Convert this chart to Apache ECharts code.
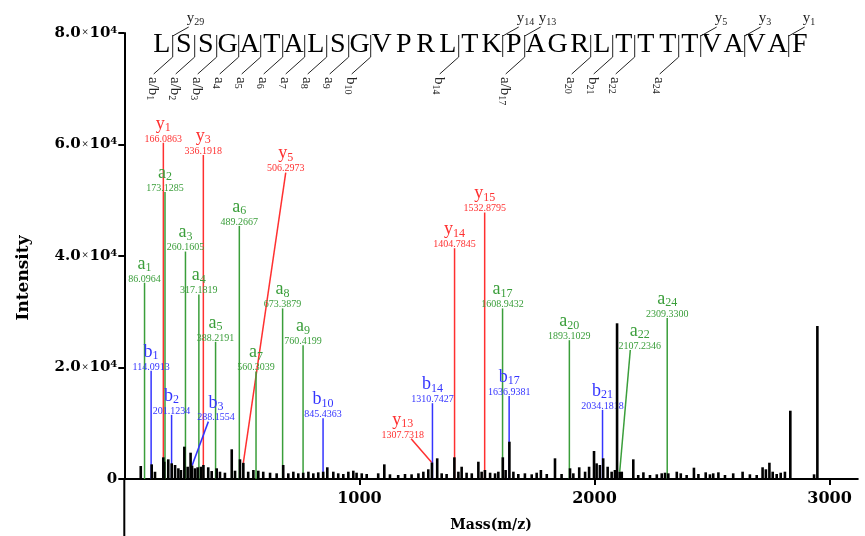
<!DOCTYPE html>
<html><head><meta charset="utf-8">
<script src="https://cdn.jsdelivr.net/npm/echarts@6/dist/echarts.min.js"></script>
<style>html,body{margin:0;padding:0;background:#fff}#c{width:865px;height:536px}</style>
</head><body><div id="c"></div>
<script>
// ---------------- data ----------------
const peptide = 'LSSGATALSGVPRLTKPAGRLTTTTVAVAF';
const nTermSites  = [1, 2, 3, 4, 5, 6, 7, 8, 9, 10, 14, 17, 20, 21, 22, 24];
const nTermTypes  = ['a/b','a/b','a/b','a','a','a','a','a','a','b','b','a/b','a','b','a','a'];
const cTermSites  = [1, 16, 17, 25, 27, 29];
const cTermNums   = [29, 14, 13, 5, 3, 1];

const yIonNums = ['1','3','5','13','14','15'];
const yIonMz = [166.0863, 336.1918, 506.2973, 1307.7318, 1404.7845, 1532.8795];
const yIonIntensity = [60300, 58100, 2900, 2950, 41400, 47800];

const aIonNums = ['1','2','3','4','5','6','7','8','9','17','20','22','24'];
const aIonMz = [86.0964, 173.1285, 260.1605, 317.1819, 388.2191, 489.2667, 560.3039, 673.3879, 760.4199, 1608.9432, 1893.1029, 2107.2346, 2309.3300];
const aIonIntensity = [35200, 51500, 40800, 33100, 24600, 45400, 19300, 30600, 24000, 30600, 24900, 1300, 28900];

const bIonNums = ['1','2','3','10','14','17','21'];
const bIonMz = [114.0913, 201.1234, 288.1554, 845.4363, 1310.7427, 1636.9381, 2034.1818];
const bIonIntensity = [19400, 11500, 2400, 10900, 13600, 14900, 12400];

const spectrumMz = [70,116.5,130.6,166,170,187,201.6,216,230,241,255.4,269.5,282,288.2,300.7,312,326,336.5,357,371.7,393,407,428,457,471,492,506.3,527,549,570,591,620,648,676,697.6,719,740,761,783,804,825,846,863.5,889,910,931.5,953,974,988,1010,1031,1080,1106,1130,1165,1194,1222,1251,1272,1293,1308.5,1331,1350,1371,1404,1421,1435,1456,1478,1506,1520,1534,1556,1577,1591,1610,1622,1638,1655,1676,1704,1733,1754,1772,1797,1832,1860,1896,1910,1935,1960,1977,1998,2009,2023,2037,2056,2073,2087,2096,2107.2,2116,2165,2186,2208,2236,2265,2286,2300,2314,2350,2367,2392,2423,2442,2473,2491,2505,2527,2555,2590,2630,2661,2690,2715,2729,2744,2758,2775,2792,2810,2833,2934,2948];
const spectrumIntensity = [2330,2630,1300,3890,3100,3530,2810,2510,1920,1610,5800,2200,4720,2400,1920,2100,2200,2510,2100,1430,1920,1310,1130,5330,1490,3530,2900,1310,1610,1490,1310,1130,1020,2510,1020,1310,1020,1130,1310,1020,1200,1310,2100,1310,1020,900,1310,1490,1130,1020,900,1020,2630,840,720,900,840,1020,1310,1740,2950,3710,1020,900,3890,1310,2200,1130,1020,3100,1310,1610,1130,1020,1310,3890,1610,6690,1310,900,1020,840,1130,1610,900,3710,900,1920,1020,2100,1310,2200,5020,2810,2510,3710,2200,1310,1610,27930,1300,1310,3530,720,1200,720,840,1020,1130,1020,1310,1020,720,2030,900,1200,840,1020,1200,720,1020,1310,840,720,2100,1740,2920,1310,900,1130,1310,12250,840,27440];

const xTicks = [1000, 2000, 3000];
const yTicks = [0, 20000, 40000, 60000, 80000];

// ---------------- styles / layout ----------------
const SERIF = '"Liberation Serif","Times New Roman",serif';
const AXISFONT = '"DejaVu Serif",serif';
const RED = '#ff3030', GREEN = '#3a9e3a', BLUE = '#3434ff';
const GRID = { left: 124.3, right: 7.2, top: 33, bottom: 57 };
// leader lines: [dx, dy] px from peak top to label anchor, and label x offset
const LEADERS = { y5: [42.4, -290.3, 0], y13: [-20.6, -23.7, -8.4], b3: [16.3, -44, 7.7], a22: [10.6, -121.7, 9.4] };

const ionRich = {
  n: { fontSize: 18, lineHeight: 18, padding: [0, 0, 2, 0], fontFamily: SERIF },
  s: { fontSize: 12, lineHeight: 12, verticalAlign: 'bottom', fontFamily: SERIF },
  m: { fontSize: 10, lineHeight: 10, fontFamily: SERIF }
};

function ionSeries(letter, color, nums, mz, inten) {
  return {
    type: 'custom', z: 2, silent: true,
    data: mz.map((m, i) => [m, inten[i]]),
    encode: { x: 0, y: 1 },
    renderItem(params, api) {
      const i = params.dataIndex;
      const key = letter + nums[i];
      const top = api.coord([api.value(0), api.value(1)]);
      const base = api.coord([api.value(0), 0]);
      const lead = LEADERS[key];
      let p0, p1, tx;
      if (lead) { p0 = top; p1 = [top[0] + lead[0], top[1] + lead[1]]; tx = p1[0] + lead[2]; }
      else { p0 = base; p1 = top; tx = top[0]; }
      return { type: 'group', children: [
        { type: 'line', shape: { x1: p0[0], y1: p0[1], x2: p1[0], y2: p1[1] }, style: { stroke: color, lineWidth: 1.5 } },
        { type: 'text', x: tx, y: p1[1] + 1.2, style: {
            text: '{n|' + letter + '}{s|' + nums[i] + '}\n{m|' + mz[i].toFixed(4) + '}',
            rich: ionRich, fill: color, align: 'center', verticalAlign: 'bottom' } }
      ]};
    }
  };
}

// ---------------- sequence header (graphic) ----------------
const SEQ_X0 = 161.7, SEQ_DX = 22, SEQ_Y = 45;
const seqEls = [];
[...peptide].forEach((ch, i) => seqEls.push({
  type: 'text', x: SEQ_X0 + SEQ_DX * i, y: SEQ_Y,
  style: { text: ch, fontSize: 28, fontFamily: SERIF, fill: '#000', align: 'center', verticalAlign: 'middle' }
}));
const sepX = s => SEQ_X0 + SEQ_DX * (s - 1) + SEQ_DX / 2;
new Set([...nTermSites, ...cTermSites]).forEach(s => seqEls.push({
  type: 'line', shape: { x1: sepX(s), y1: 35, x2: sepX(s), y2: 57 }, style: { stroke: '#222', lineWidth: 1 }
}));
const seqRich = {
  n: { fontSize: 15, lineHeight: 15, padding: [0, 0, 2, 0], fontFamily: SERIF },
  s: { fontSize: 10, lineHeight: 10, verticalAlign: 'bottom', fontFamily: SERIF }
};
cTermSites.forEach((s, k) => {
  const x = sepX(s);
  seqEls.push({ type: 'line', shape: { x1: x, y1: 36, x2: x + 16, y2: 27 }, style: { stroke: '#222', lineWidth: 1 } });
  seqEls.push({ type: 'text', x: x + 14, y: 27, style: { text: '{n|y}{s|' + cTermNums[k] + '}', rich: seqRich, fill: '#222', align: 'left', verticalAlign: 'bottom' } });
});
nTermSites.forEach((s, k) => {
  const x = sepX(s);
  seqEls.push({ type: 'line', shape: { x1: x, y1: 57, x2: x - 19, y2: 74 }, style: { stroke: '#222', lineWidth: 1 } });
  seqEls.push({ type: 'text', x: x - 20.5, y: 77, rotation: -Math.PI / 2,
    style: { text: '{n|' + nTermTypes[k] + '}{s|' + s + '}', rich: seqRich, fill: '#222', align: 'left', verticalAlign: 'middle' } });
});
seqEls.push({ type: 'text', x: 23.5, y: 278, rotation: Math.PI / 2,
  style: { text: 'Intensity', fontSize: 17, fontWeight: 'bold', fontFamily: AXISFONT, fill: '#000', align: 'center', verticalAlign: 'middle' } });
// downward extension of the left axis line below the baseline
seqEls.push({ type: 'line', shape: { x1: GRID.left, y1: 536 - GRID.bottom, x2: GRID.left, y2: 536 }, style: { stroke: '#000', lineWidth: 2 } });

// ---------------- chart ----------------
const chart = echarts.init(document.getElementById('c'));
chart.setOption({
  animation: false,
  grid: Object.assign({ containLabel: false, outerBoundsMode: 'none' }, GRID),
  xAxis: {
    type: 'value', min: 0, max: 3120, interval: 1000,
    axisLine: { onZero: true, lineStyle: { color: '#000', width: 2 } },
    axisTick: { show: true, length: 6, customValues: xTicks, lineStyle: { color: '#000', width: 2 } },
    axisLabel: { customValues: xTicks, margin: 12, color: '#000', fontFamily: AXISFONT, fontWeight: 'bold', fontSize: 16,
      formatter: v => String(v) },
    splitLine: { show: false },
    name: 'Mass(m/z)', nameLocation: 'middle', nameGap: 39,
    nameTextStyle: { color: '#000', fontFamily: AXISFONT, fontWeight: 'bold', fontSize: 14 }
  },
  yAxis: {
    type: 'value', min: 0, max: 80000, interval: 20000,
    axisLine: { show: true, lineStyle: { color: '#000', width: 2 } },
    axisTick: { show: true, length: 6, customValues: yTicks, lineStyle: { color: '#000', width: 2 } },
    axisLabel: {
      customValues: yTicks, margin: 7, color: '#000',
      formatter: v => v === 0 ? '{b|0}' : '{b|' + (v / 1e4).toFixed(1) + '}{x|×}{b|10}{p|4}',
      rich: {
        b: { fontSize: 15, fontWeight: 'bold', fontFamily: AXISFONT, lineHeight: 16, color: '#000' },
        x: { fontSize: 12, fontFamily: SERIF, color: '#000', padding: [0, 1, 0, 1] },
        p: { fontSize: 10, fontWeight: 'bold', fontFamily: AXISFONT, verticalAlign: 'top', lineHeight: 10, color: '#000' }
      }
    },
    splitLine: { show: false }
  },
  series: [
    ionSeries('y', RED, yIonNums, yIonMz, yIonIntensity),
    ionSeries('a', GREEN, aIonNums, aIonMz, aIonIntensity),
    ionSeries('b', BLUE, bIonNums, bIonMz, bIonIntensity),
    { type: 'bar', z: 3, silent: true, barWidth: 2.6, itemStyle: { color: '#000' },
      data: spectrumMz.map((m, i) => [m, spectrumIntensity[i]]) }
  ],
  graphic: seqEls
});
</script></body></html>
